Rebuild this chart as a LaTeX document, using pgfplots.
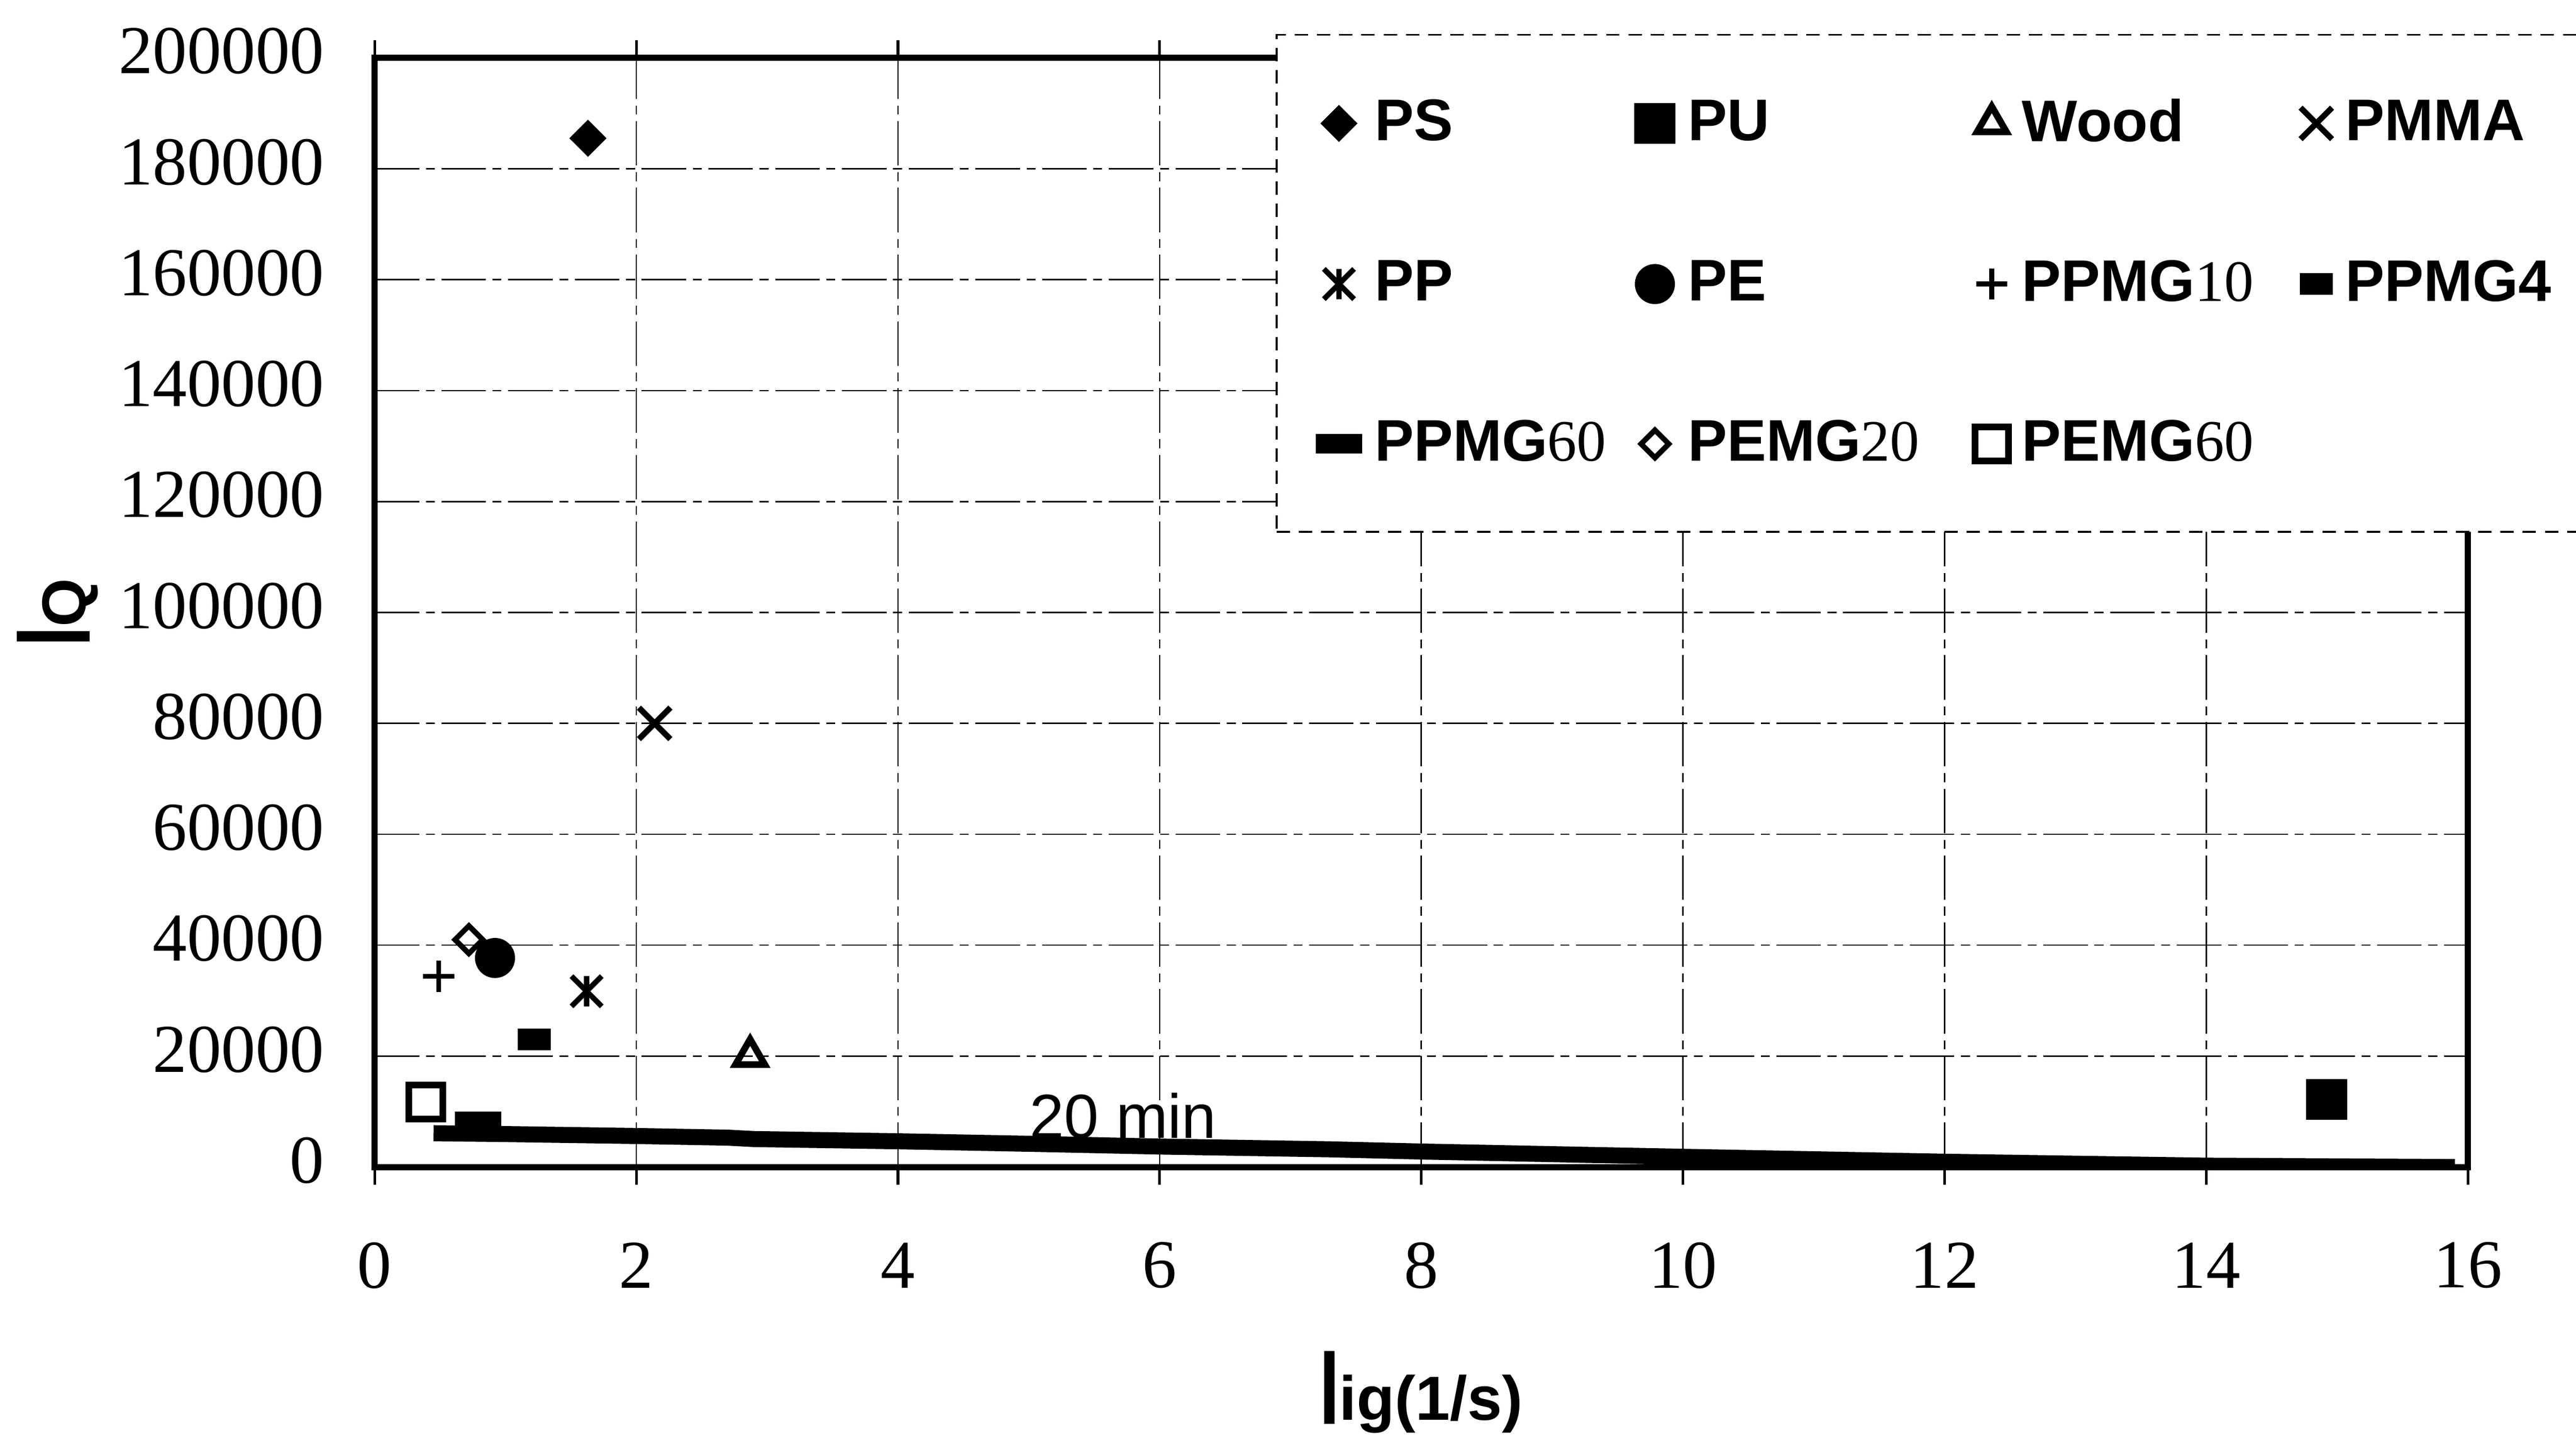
\documentclass[border=0pt]{standalone}
\usepackage{fontspec}
\setmainfont{Liberation Serif}
\setsansfont{Liberation Sans}
\usepackage{graphicx}
\usepackage{pgfplots}
\pgfplotsset{compat=1.18}

% Excel "star" marker: an x with a vertical bar
\pgfdeclareplotmark{xbar}{%
  \pgfpathmoveto{\pgfqpoint{-\pgfplotmarksize}{-\pgfplotmarksize}}%
  \pgfpathlineto{\pgfqpoint{\pgfplotmarksize}{\pgfplotmarksize}}%
  \pgfpathmoveto{\pgfqpoint{-\pgfplotmarksize}{\pgfplotmarksize}}%
  \pgfpathlineto{\pgfqpoint{\pgfplotmarksize}{-\pgfplotmarksize}}%
  \pgfpathmoveto{\pgfqpoint{0pt}{-\pgfplotmarksize}}%
  \pgfpathlineto{\pgfqpoint{0pt}{\pgfplotmarksize}}%
  \pgfusepathqstroke}

% legend cells, one width per column
\newcommand{\lt}[2]{\makebox[#1][l]{\hspace{1pt}\rule[-3pt]{0pt}{12pt}#2}}
\newcommand{\dg}[1]{{\rmfamily\mdseries #1}}
\newcommand{\bigI}{\raisebox{-1pt}{\scalebox{1.15}[1.7]{I}}}

\begin{document}
\begin{tikzpicture}
\useasboundingbox (0,0) rectangle (578.9pt,324.6pt);
\begin{axis}[
    at={(84.2pt,62.4pt)}, anchor=south west,
    scale only axis, width=470.4pt, height=249.2pt,
    xmin=0, xmax=16, ymin=0, ymax=200000,
    xtick={0,2,...,16}, ytick={0,20000,...,200000},
    scaled y ticks=false,
    grid=major,
    major grid style={black, line width=0.3pt, dash pattern=on 10pt off 1.5pt on 2pt off 1.5pt},
    axis line style={line width=1.4pt},
    tick align=outside, major tick length=4pt,
    xtick style={black, line width=0.6pt},
    ytick style={draw=none},
    /pgf/number format/assume math mode=true,
    /pgf/number format/fixed,
    /pgf/number format/1000 sep={},
    ticklabel style={font=\fontsize{15.4}{18}\selectfont},
    xticklabel style={anchor=center, yshift=-18.1pt},
    yticklabel style={anchor=east, xshift=-3.8pt, yshift=1.5pt},
    xlabel={\bigI ig(1/s)},
    ylabel={\bigI Q},
    label style={font=\sffamily\bfseries\fontsize{14}{17}\selectfont},
    xlabel style={at={(axis description cs:0.5,-0.2030)}, anchor=center},
    ylabel style={at={(axis description cs:-0.1515,0.5)}, anchor=center},
    legend columns=4,
    legend cell align=left,
    legend image code/.code={\draw[mark repeat=2,mark phase=2,#1] plot coordinates {(0pt,0pt)(4pt,0pt)(8pt,0pt)};},
    legend style={at={(rel axis cs:0.4305,1.0217)}, anchor=north west,
        draw=black, line width=0.4pt, densely dashed, fill=white,
        font=\sffamily\bfseries\fontsize{13.2}{15}\selectfont,
        inner xsep=9pt, inner ysep=12.4pt, row sep=21.2pt},
    every axis plot/.append style={solid},
]
% 20 min curve
\addplot[black, line width=3.6pt, forget plot, line join=round] coordinates {
    (0.45,6100) (1,5950) (2,5600) (2.7,5300) (2.9,5050) (4,4650) (5,4200)
    (6,3700) (7.3,3200) (8,2800) (10,1850) (12,960) (14,250) (15.9,0)};
\node[font=\sffamily\fontsize{14}{16}\selectfont, anchor=base] at (axis cs:5.72,5200) {20 min};

\addplot[only marks, black, mark=square*, mark size=2.75pt, mark options={rotate=45}]
    coordinates {(1.63,185500)};
\addlegendentry{\lt{57.6pt}{PS}}
\addplot[only marks, black, mark=square*, mark size=4.4pt, mark options={rounded corners=1.2pt}]
    coordinates {(14.92,12200)};
\addlegendentry{\lt{63.5pt}{PU}}
\addplot[only marks, black, mark=triangle, mark size=3.8pt, line width=1.5pt]
    coordinates {(2.87,20000)};
\addlegendentry{\lt{61.6pt}{Wood}}
\addplot[only marks, black, mark=x, mark size=5pt, line width=1.3pt]
    coordinates {(2.14,80000)};
\addlegendentry{\lt{55pt}{PMMA}}
\addplot[only marks, black, mark=xbar, mark size=3.4pt, line width=1.2pt]
    coordinates {(1.62,31700)};
\addlegendentry{\lt{57.6pt}{PP}}
\addplot[only marks, black, mark=*, mark size=4.2pt, line width=0.6pt]
    coordinates {(0.92,37700)};
\addlegendentry{\lt{63.5pt}{PE}}
\addplot[only marks, black, mark=+, mark size=3.5pt, line width=1.1pt]
    coordinates {(0.49,34400)};
\addlegendentry{\lt{61.6pt}{PPMG\dg{10}}}
\addplot[only marks, black, mark=square*, mark size=2.2pt, mark options={xscale=1.6, rounded corners=1pt}]
    coordinates {(1.22,23000)};
\addlegendentry{\lt{55pt}{PPMG4}}
\addplot[only marks, black, mark=square*, mark size=2pt, mark options={xscale=2.5, rounded corners=1pt}]
    coordinates {(0.79,8200)};
\addlegendentry{\lt{57.6pt}{PPMG\dg{60}}}
\addplot[only marks, black, mark=square, mark size=2.2pt, line width=1.2pt, mark options={rotate=45, fill=white}]
    coordinates {(0.72,41000)};
\addlegendentry{\lt{63.5pt}{PEMG\dg{20}}}
\addplot[only marks, black, mark=square, mark size=3.8pt, line width=1.5pt, mark options={fill=gray!30}]
    coordinates {(0.39,11700)};
\addlegendentry{\lt{61.6pt}{PEMG\dg{60}}}
\end{axis}
\end{tikzpicture}
\end{document}
